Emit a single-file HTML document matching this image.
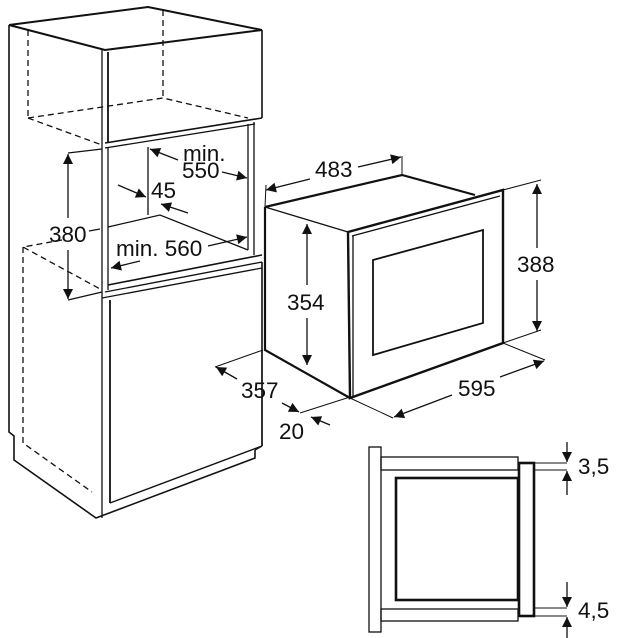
<!DOCTYPE html>
<html><head><meta charset="utf-8"><style>
html,body{margin:0;padding:0;background:#fff;}
svg{display:block;}
text{font-family:"Liberation Sans",Arial,sans-serif;font-size:22.5px;fill:#111;}
</style></head><body>
<svg width="626" height="638" viewBox="0 0 626 638" xmlns="http://www.w3.org/2000/svg">
<defs>
<marker id="a" viewBox="0 0 10 10" refX="10" refY="5" markerWidth="14" markerHeight="10" markerUnits="userSpaceOnUse" orient="auto"><path d="M0,0 L10,5 L0,10 z" fill="#111"/></marker>
</defs>
<g fill="none" stroke="#111" stroke-width="1.3">
<path d="M9,25 L148,7 L163,10 L262,30" stroke-width="2"/>
<path d="M9,25 L105,50 L262,30" stroke-width="2"/>
<path d="M9,25 L9,432 L14,436 L14,460 L96,518 L255,458 L255,450" stroke-width="1.6"/>
<line x1="102" y1="50" x2="102" y2="518"/>
<line x1="108" y1="52" x2="108" y2="143" stroke-width="1.8"/>
<line x1="262" y1="30" x2="262" y2="118" stroke-width="1.6"/>
<path d="M105,143 L262,118" stroke-width="1.6"/>
<path d="M105,148 L255,124"/>
<line x1="108" y1="148" x2="108" y2="290"/>
<line x1="248" y1="124" x2="248" y2="250"/>
<line x1="254" y1="122" x2="254" y2="255"/>
<line x1="148" y1="147" x2="148" y2="215"/>
<path d="M108,227 L160,215 L248,250"/>
<path d="M108,285 L262,255" stroke-width="1.6"/>
<path d="M105,292 L262,262"/>
<path d="M102,298 L262,268"/>
<line x1="110" y1="300" x2="110" y2="503" stroke-width="1.8"/>
<line x1="262" y1="262" x2="262" y2="446" stroke-width="1.6"/>
<path d="M110,503 L262,446"/>
<path d="M255,450 L262,446"/>
<g stroke-dasharray="6,4">
<line x1="28" y1="30" x2="28" y2="118"/>
<line x1="163" y1="10" x2="163" y2="98"/>
<path d="M28,118 L163,98 L248,118"/>
<path d="M28,118 L102,145"/>
<path d="M62,240 L23,247 L102,290"/>
<path d="M23,247 L23,443 L92,492"/>
</g>
<path d="M68,153 L102,149 M68,300 L102,292"/>
<line x1="68" y1="218" x2="68" y2="154" marker-end="url(#a)"/>
<line x1="68" y1="250" x2="68" y2="299" marker-end="url(#a)"/>
<line x1="89" y1="231" x2="100" y2="229"/>
<line x1="178" y1="160" x2="150" y2="149" marker-end="url(#a)"/>
<line x1="222" y1="172" x2="247" y2="178" marker-end="url(#a)"/>
<line x1="118" y1="185" x2="146" y2="197" marker-end="url(#a)"/>
<line x1="188" y1="213" x2="161" y2="204" marker-end="url(#a)"/>
<line x1="140" y1="261" x2="111" y2="268" marker-end="url(#a)"/>
<line x1="208" y1="246" x2="247" y2="237" marker-end="url(#a)"/>
<path d="M265,207 L402,175 L475,195" stroke-width="2.2"/>
<path d="M265,207 L348,232"/>
<path d="M265,207 L265,350 L350,398" stroke-width="2.2"/>
<path d="M348,232 L503,190 L503,343 L350,398 Z" stroke-width="2.4"/>
<path d="M353,236 L353,396"/>
<path d="M352,236 L500,196"/>
<path d="M373,260 L483,230 L483,323 L373,355 Z" stroke-width="1.8"/>
<path d="M265,207 L266,185 M402,175 L402,156" stroke-width="1"/>
<line x1="310" y1="179" x2="266" y2="190" marker-end="url(#a)"/>
<line x1="358" y1="167" x2="401" y2="157" marker-end="url(#a)"/>
<path d="M503,190 L541,180 M503,343 L541,330" stroke-width="1"/>
<line x1="537" y1="248" x2="537" y2="184" marker-end="url(#a)"/>
<line x1="537" y1="280" x2="537" y2="331" marker-end="url(#a)"/>
<line x1="307" y1="285" x2="307" y2="224" marker-end="url(#a)"/>
<line x1="307" y1="318" x2="307" y2="365" marker-end="url(#a)"/>
<path d="M503,343 L545,360 M350,398 L393,418" stroke-width="1"/>
<line x1="452" y1="395" x2="394" y2="417" marker-end="url(#a)"/>
<line x1="500" y1="377" x2="544" y2="361" marker-end="url(#a)"/>
<path d="M263,350 L215,367 M300,413 L350,397" stroke-width="1"/>
<line x1="237" y1="379" x2="216" y2="367" marker-end="url(#a)"/>
<line x1="282" y1="403" x2="299" y2="412" marker-end="url(#a)"/>
<line x1="330" y1="425" x2="311" y2="417" marker-end="url(#a)"/>
<line x1="262" y1="350" x2="262" y2="446"/>
<rect x="369" y="447" width="12" height="185"/>
<rect x="381" y="457" width="137" height="13"/>
<rect x="381" y="609" width="137" height="12"/>
<rect x="396" y="478" width="122" height="122" stroke-width="2.6"/>
<rect x="519" y="463" width="15" height="153" stroke-width="2.6"/>
<path d="M534,463 L567,463 M534,470 L567,470 M534,608 L567,608 M534,616 L567,616" stroke-width="1"/>
<line x1="567" y1="442" x2="567" y2="462" marker-end="url(#a)"/>
<line x1="567" y1="495" x2="567" y2="471" marker-end="url(#a)"/>
<line x1="567" y1="582" x2="567" y2="607" marker-end="url(#a)"/>
<line x1="567" y1="638" x2="567" y2="617" marker-end="url(#a)"/>
</g>
<text x="49" y="242">380</text>
<text x="183" y="161">min.</text>
<text x="182" y="178">550</text>
<text x="151" y="198">45</text>
<text x="116" y="256">min. 560</text>
<text x="315" y="177">483</text>
<text x="517" y="272">388</text>
<text x="287" y="310">354</text>
<text x="458" y="396">595</text>
<text x="241" y="398">357</text>
<text x="279" y="439">20</text>
<text x="578" y="474">3,5</text>
<text x="578" y="618">4,5</text>
</svg>
</body></html>
